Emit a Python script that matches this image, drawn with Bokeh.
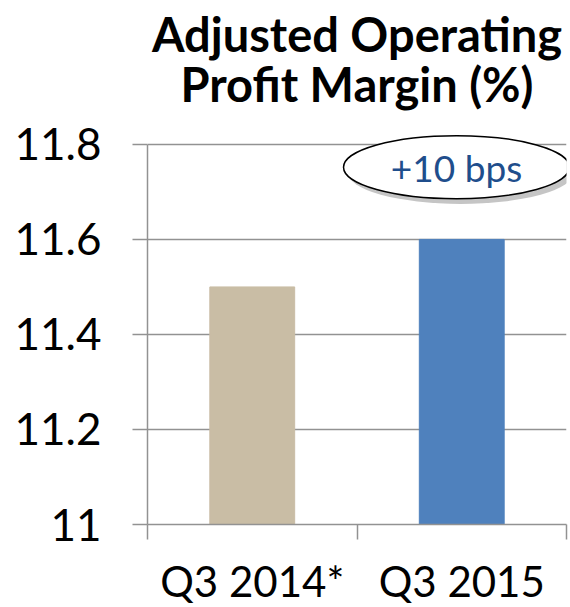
from bokeh.plotting import figure
from bokeh.models import (Range1d, LinearAxis, FixedTicker, Label, ColumnDataSource, Title)
from bokeh.embed import file_html
from bokeh.resources import INLINE

# ---- data ----
categories = ["Q3 2014*", "Q3 2015"]
margins = [11.5, 11.6]
bar_colors = ["#C9BDA5", "#4F81BD"]
y_ticks = [11.0, 11.2, 11.4, 11.6, 11.8]
title_lines = ["Adjusted Operating", "Profit Margin (%)"]
callout_text = "+10 bps"

FONT = "Lato"
GRAY = "#929292"

n = len(categories)
centers = [i + 0.5 for i in range(n)]

p = figure(
    x_range=Range1d(0, n),
    y_range=Range1d(y_ticks[0], 11.825),
    frame_width=419, frame_height=392,
    min_border_left=147, min_border_right=4,
    min_border_top=132, min_border_bottom=83,
    output_backend="svg", toolbar_location=None,
    x_axis_location=None, y_axis_location="left",
    title=title_lines[0],
)
p.outline_line_color = None
p.background_fill_color = "white"

# title: the figure title is stacked outermost, the added Title sits next to the frame
title_style = dict(text_font=FONT, text_font_size="47px", text_font_style="bold",
                   text_color="black", align="center")
for k, v in title_style.items():
    setattr(p.title, k, v)
p.title.standoff = -58
p.add_layout(Title(text=title_lines[1], standoff=42, **title_style), "above")

# y axis
yax = p.yaxis[0]
yax.ticker = FixedTicker(ticks=y_ticks)
yax.major_label_overrides = {t: f"{t:g}" for t in y_ticks}
yax.bounds = (y_ticks[0], y_ticks[-1])
yax.axis_line_color = GRAY
yax.axis_line_width = 1.5
yax.major_tick_line_color = GRAY
yax.major_tick_line_width = 1.5
yax.major_tick_out = 15
yax.major_tick_in = 0
yax.minor_tick_line_color = None
yax.major_label_text_font = FONT
yax.major_label_text_font_size = "44px"
yax.major_label_text_color = "black"
yax.major_label_standoff = 31

# grid
p.xgrid.visible = False
p.ygrid.ticker = FixedTicker(ticks=y_ticks)
p.ygrid.grid_line_color = GRAY
p.ygrid.grid_line_width = 1.5

# x axis: labels at bar centres, ticks at category boundaries
xax = LinearAxis(
    ticker=FixedTicker(ticks=centers, minor_ticks=list(range(n + 1))),
    major_label_overrides={c: name for c, name in zip(centers, categories)},
    axis_line_color=GRAY, axis_line_width=1.5,
    major_tick_line_color=None, major_tick_out=15, major_tick_in=0,
    minor_tick_line_color=GRAY, minor_tick_line_width=1.5,
    minor_tick_out=15, minor_tick_in=0,
    major_label_text_font=FONT, major_label_text_font_size="42px",
    major_label_text_color="black", major_label_standoff=16,
)
p.add_layout(xax, "below")

# bars
src = ColumnDataSource(dict(x=centers, top=margins, color=bar_colors))
p.vbar(x="x", top="top", bottom=y_ticks[0], width=0.405, color="color", source=src)

# callout ellipse with shadow
cx, cy = 1.475, 11.752
p.ellipse(x=[cx + 0.02], y=[cy - 0.011], width=226, height=63,
          width_units="screen", height_units="screen",
          fill_color="#7F7F7F", fill_alpha=0.45, line_color=None)
p.ellipse(x=[cx], y=[cy], width=226, height=63,
          width_units="screen", height_units="screen",
          fill_color="white", line_color="black", line_width=1.5)
p.add_layout(Label(x=cx, y=cy, text=callout_text, text_align="center",
                   text_baseline="middle", text_font=FONT, text_font_size="37px",
                   text_color="#1F4E8C"))

open("out.html", "w").write(file_html(p, INLINE))
